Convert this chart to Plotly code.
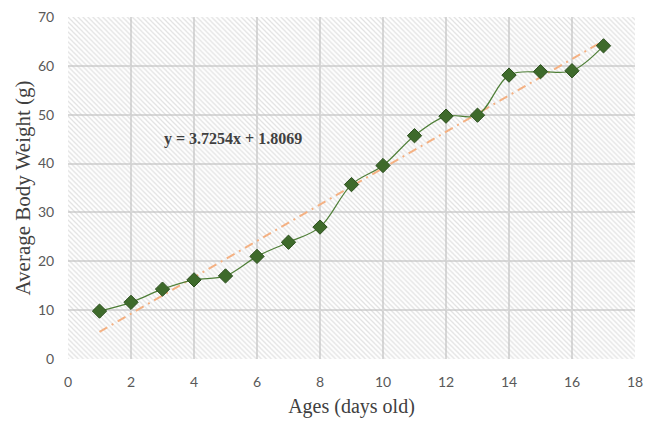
import plotly.graph_objects as go

ages = [1, 2, 3, 4, 5, 6, 7, 8, 9, 10, 11, 12, 13, 14, 15, 16, 17]
weights = [9.8, 11.6, 14.3, 16.2, 17.0, 21.0, 23.9, 27.0, 35.7, 39.6, 45.7, 49.7, 49.9, 58.1, 58.8, 59.0, 64.1]
slope = 3.7254
intercept = 1.8069
x_range = [0, 18]
y_range = [0, 70]
x_ticks = [0, 2, 4, 6, 8, 10, 12, 14, 16, 18]
y_ticks = [0, 10, 20, 30, 40, 50, 60, 70]
equation = "y = 3.7254x + 1.8069"

trend_x = [ages[0], ages[-1]]
trend_y = [slope * v + intercept for v in trend_x]

fig = go.Figure()

# hatched plot-area background
fig.add_trace(go.Scatter(
    x=[x_range[0], x_range[1], x_range[1], x_range[0], x_range[0]],
    y=[y_range[0], y_range[0], y_range[1], y_range[1], y_range[0]],
    mode="none", fill="toself", fillcolor="rgba(0,0,0,0)",
    fillpattern=dict(shape="\\", fgcolor="#c4c4c4", bgcolor="rgba(0,0,0,0)",
                     size=3.5, solidity=0.35),
    hoverinfo="skip", showlegend=False,
))

fig.add_trace(go.Scatter(
    x=trend_x, y=trend_y, mode="lines",
    line=dict(color="#f4b183", width=2, dash="9px,5px,2px,5px"),
    hoverinfo="skip", showlegend=False,
))

fig.add_trace(go.Scatter(
    x=ages, y=weights, mode="lines+markers",
    line=dict(color="#4f7f38", width=1.2, shape="spline", smoothing=1.0),
    marker=dict(symbol="diamond", size=11, color="#3e6a2b",
                line=dict(color="#2c4f1e", width=1)),
    showlegend=False,
))

fig.add_annotation(
    x=5.24, y=45.0, text="<b>" + equation + "</b>", showarrow=False,
    font=dict(family="Liberation Serif", size=16, color="#404040"),
)

fig.update_layout(
    width=645, height=413,
    margin=dict(l=60, r=18, t=9, b=62, autoexpand=False),
    paper_bgcolor="white", plot_bgcolor="white",
    xaxis=dict(
        range=x_range, tickvals=x_ticks, showgrid=True, gridcolor="#d9d9d9",
        gridwidth=1.5, zeroline=False, showline=False,
        ticks="outside", ticklen=10, tickcolor="rgba(0,0,0,0)", automargin=False,
        ticklabeloverflow="allow",
        tickfont=dict(family="Lato", size=14, color="#595959"),
        title=dict(text="Ages (days old)", standoff=10,
                   font=dict(family="Liberation Serif", size=20, color="#404040")),
    ),
    yaxis=dict(
        range=y_range, tickvals=y_ticks, showgrid=True, gridcolor="#d9d9d9",
        gridwidth=1.5, zeroline=False, showline=False,
        ticks="outside", ticklen=10, tickcolor="rgba(0,0,0,0)", automargin=False,
        ticklabeloverflow="allow",
        tickfont=dict(family="Lato", size=14, color="#595959"),
        title=dict(text="Average Body Weight (g)", standoff=1,
                   font=dict(family="Liberation Serif", size=21, color="#404040")),
    ),
)

fig.write_html("out.html")
